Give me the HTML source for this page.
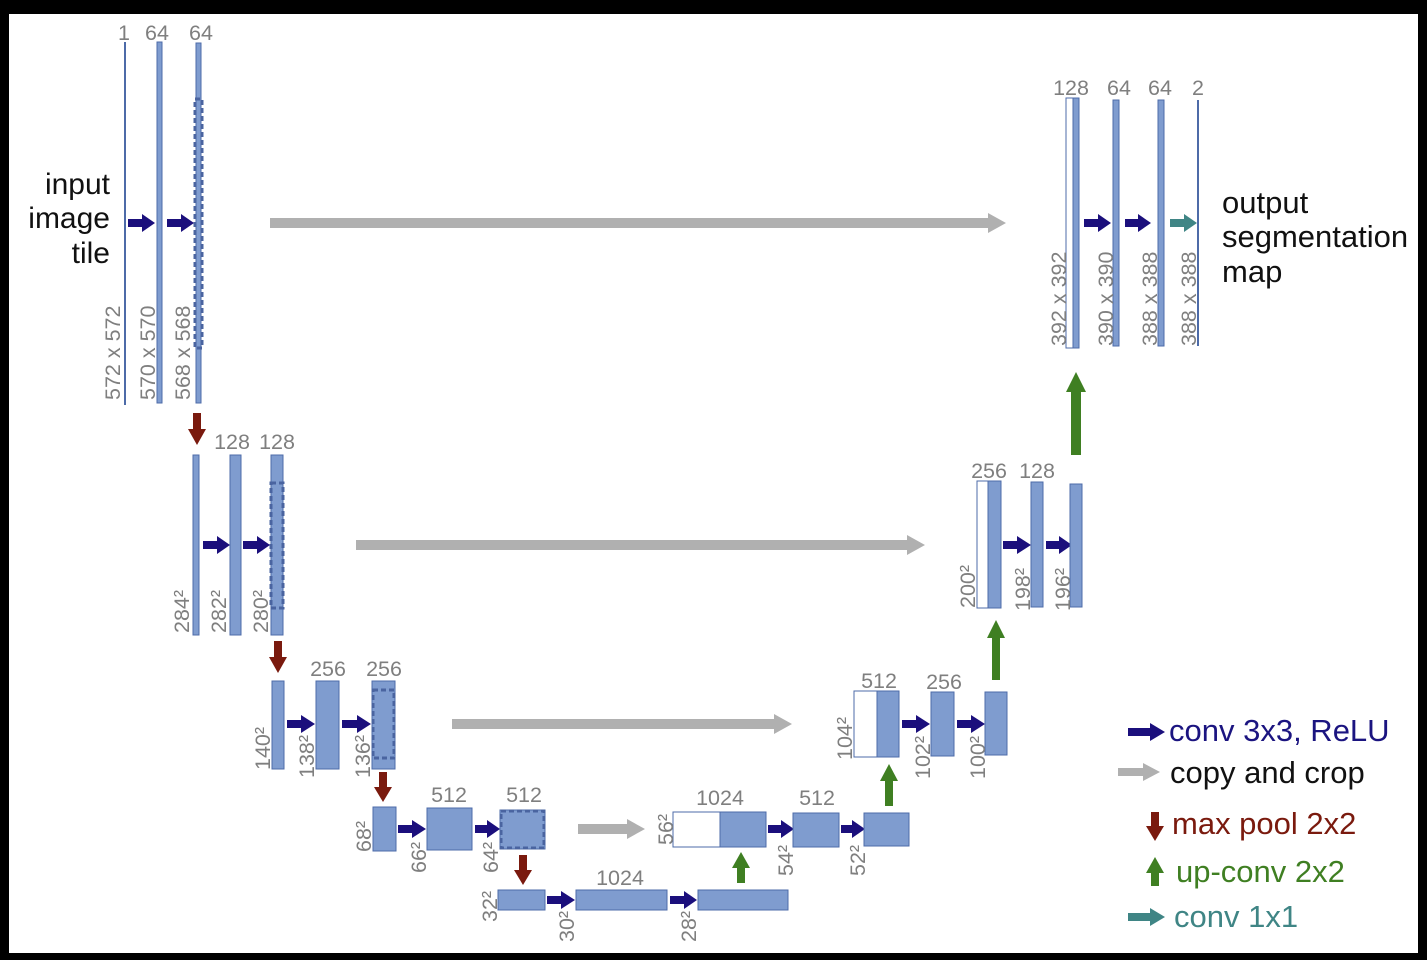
<!DOCTYPE html>
<html><head><meta charset="utf-8"><style>
html,body{margin:0;padding:0;background:#000;}
svg{display:block}
text{font-family:"Liberation Sans",sans-serif}
.g{fill:#7f7f7f;font-size:21.5px}
.b{fill:#7f9ccf;stroke:#4d6ba8;stroke-width:1}
.w{fill:#fff;stroke:#4d6ba8;stroke-width:1}
.d{fill:none;stroke:#4a64a0;stroke-width:3;stroke-dasharray:5,3}
.nv{fill:#1b0f7c}.gr{fill:#b0b0b0}.rd{fill:#7a1a0e}.gn{fill:#3f7f22}.tl{fill:#3f8585}
</style></head><body>
<svg width="1427" height="960" viewBox="0 0 1427 960" xmlns="http://www.w3.org/2000/svg">
<rect x="0" y="0" width="1427" height="960" fill="#000"/>
<rect x="9" y="14" width="1409" height="939" fill="#fff"/>

<!-- level 1 -->
<line x1="125" y1="42" x2="125" y2="405" stroke="#4d6ba8" stroke-width="2"/>
<rect class="b" x="157" y="42" width="5" height="361"/>
<rect class="b" x="196" y="43" width="5" height="360"/>
<rect class="d" x="195" y="99" width="7" height="249"/>
<text class="g" x="124" y="40" text-anchor="middle">1</text>
<text class="g" x="157" y="40" text-anchor="middle">64</text>
<text class="g" x="201" y="40" text-anchor="middle">64</text>
<text class="g" transform="translate(120,400) rotate(-90)">572 x 572</text>
<text class="g" transform="translate(155,400) rotate(-90)">570 x 570</text>
<text class="g" transform="translate(190,400) rotate(-90)">568 x 568</text>
<text x="110" y="194" font-size="30" text-anchor="end" fill="#111">input</text>
<text x="110" y="228" font-size="30" text-anchor="end" fill="#111">image</text>
<text x="110" y="263" font-size="30" text-anchor="end" fill="#111">tile</text>
<polygon class="nv" points="128,219 142,219 142,214 155,223 142,232 142,227 128,227"/>
<polygon class="nv" points="167,219 181,219 181,214 194,223 181,232 181,227 167,227"/>
<polygon class="gr" points="270,218 988,218 988,213 1006,223 988,233 988,228 270,228"/>

<!-- level 2 -->
<polygon class="rd" points="193,413 201,413 201,429 206,429 197,445 188,429 193,429"/>
<rect class="b" x="193" y="455" width="6" height="180"/>
<rect class="b" x="230" y="455" width="11" height="180"/>
<rect class="b" x="271" y="455" width="12" height="180"/>
<rect class="d" x="271" y="483" width="12" height="125"/>
<text class="g" x="232" y="449" text-anchor="middle">128</text>
<text class="g" x="277" y="449" text-anchor="middle">128</text>
<text class="g" transform="translate(189,633) rotate(-90)">284²</text>
<text class="g" transform="translate(226,633) rotate(-90)">282²</text>
<text class="g" transform="translate(268,633) rotate(-90)">280²</text>
<polygon class="nv" points="203,541 217,541 217,536 230,545 217,554 217,549 203,549"/>
<polygon class="nv" points="243,541 257,541 257,536 270,545 257,554 257,549 243,549"/>
<polygon class="gr" points="356,540 907,540 907,535 925,545 907,555 907,550 356,550"/>

<!-- level 3 -->
<polygon class="rd" points="274,641 282,641 282,657 287,657 278,673 269,657 274,657"/>
<rect class="b" x="272" y="681" width="12" height="88"/>
<rect class="b" x="316" y="681" width="23" height="88"/>
<rect class="b" x="372" y="681" width="23" height="88"/>
<rect class="d" x="373" y="690" width="21" height="68"/>
<text class="g" x="328" y="676" text-anchor="middle">256</text>
<text class="g" x="384" y="676" text-anchor="middle">256</text>
<text class="g" transform="translate(270,770) rotate(-90)">140²</text>
<text class="g" transform="translate(314,778) rotate(-90)">138²</text>
<text class="g" transform="translate(370,778) rotate(-90)">136²</text>
<polygon class="nv" points="287,720 301,720 301,715 315,724 301,733 301,728 287,728"/>
<polygon class="nv" points="342,720 357,720 357,715 371,724 357,733 357,728 342,728"/>
<polygon class="gr" points="452,719 774,719 774,714 792,724 774,734 774,729 452,729"/>

<!-- level 4 -->
<polygon class="rd" points="379,772 387,772 387,787 392,787 383,802 374,787 379,787"/>
<rect class="b" x="373" y="807" width="23" height="44"/>
<rect class="b" x="427" y="808" width="45" height="42"/>
<rect class="b" x="500" y="810" width="45" height="39"/>
<rect class="d" x="501" y="811" width="43" height="37"/>
<text class="g" x="449" y="802" text-anchor="middle">512</text>
<text class="g" x="524" y="802" text-anchor="middle">512</text>
<text class="g" transform="translate(371,852) rotate(-90)">68²</text>
<text class="g" transform="translate(426,873) rotate(-90)">66²</text>
<text class="g" transform="translate(498,873) rotate(-90)">64²</text>
<polygon class="nv" points="398,825 412,825 412,820 426,829 412,838 412,833 398,833"/>
<polygon class="nv" points="475,825 487,825 487,820 500,829 487,838 487,833 475,833"/>
<polygon class="gr" points="578,824 627,824 627,819 645,829 627,839 627,834 578,834"/>

<!-- level 5 -->
<polygon class="rd" points="519,855 527,855 527,870 532,870 523,885 514,870 519,870"/>
<rect class="b" x="498" y="890" width="47" height="20"/>
<rect class="b" x="576" y="890" width="91" height="20"/>
<rect class="b" x="698" y="890" width="90" height="20"/>
<text class="g" x="620" y="885" text-anchor="middle">1024</text>
<text class="g" transform="translate(497,922) rotate(-90)">32²</text>
<text class="g" transform="translate(574,942) rotate(-90)">30²</text>
<text class="g" transform="translate(696,942) rotate(-90)">28²</text>
<polygon class="nv" points="547,896 561,896 561,891 575,900 561,909 561,904 547,904"/>
<polygon class="nv" points="670,896 684,896 684,891 697,900 684,909 684,904 670,904"/>
<polygon class="gn" points="737,883 745,883 745,868 750,868 741,852 732,868 737,868"/>

<!-- up level 4 -->
<rect class="w" x="673" y="812" width="47" height="35"/>
<rect class="b" x="720" y="812" width="46" height="35"/>
<text class="g" x="720" y="805" text-anchor="middle">1024</text>
<text class="g" transform="translate(673,845) rotate(-90)">56²</text>
<polygon class="nv" points="768,825 781,825 781,820 794,829 781,838 781,833 768,833"/>
<rect class="b" x="793" y="813" width="46" height="34"/>
<text class="g" x="817" y="805" text-anchor="middle">512</text>
<text class="g" transform="translate(793,876) rotate(-90)">54²</text>
<polygon class="nv" points="841,825 852,825 852,820 865,829 852,838 852,833 841,833"/>
<rect class="b" x="864" y="813" width="45" height="33"/>
<text class="g" transform="translate(865,876) rotate(-90)">52²</text>
<polygon class="gn" points="885,806 893,806 893,781 898,781 889,764 880,781 885,781"/>

<!-- up level 3 -->
<rect class="w" x="854" y="691" width="23" height="66"/>
<rect class="b" x="877" y="691" width="22" height="66"/>
<text class="g" x="879" y="688" text-anchor="middle">512</text>
<text class="g" transform="translate(852,760) rotate(-90)">104²</text>
<polygon class="nv" points="902,720 916,720 916,715 930,724 916,733 916,728 902,728"/>
<rect class="b" x="931" y="692" width="23" height="64"/>
<text class="g" x="944" y="689" text-anchor="middle">256</text>
<text class="g" transform="translate(930,779) rotate(-90)">102²</text>
<polygon class="nv" points="957,720 971,720 971,715 985,724 971,733 971,728 957,728"/>
<rect class="b" x="985" y="692" width="22" height="63"/>
<text class="g" transform="translate(985,779) rotate(-90)">100²</text>
<polygon class="gn" points="992,680 1000,680 1000,638 1005,638 996,620 987,638 992,638"/>

<!-- up level 2 -->
<rect class="w" x="977" y="481" width="11" height="127"/>
<rect class="b" x="988" y="481" width="13" height="127"/>
<text class="g" x="989" y="478" text-anchor="middle">256</text>
<text class="g" transform="translate(975,608) rotate(-90)">200²</text>
<polygon class="nv" points="1003,541 1017,541 1017,536 1031,545 1017,554 1017,549 1003,549"/>
<rect class="b" x="1031" y="482" width="12" height="125"/>
<text class="g" x="1037" y="478" text-anchor="middle">128</text>
<text class="g" transform="translate(1030,611) rotate(-90)">198²</text>
<polygon class="nv" points="1046,541 1059,541 1059,536 1072,545 1059,554 1059,549 1046,549"/>
<rect class="b" x="1070" y="484" width="12" height="123"/>
<text class="g" transform="translate(1070,611) rotate(-90)">196²</text>
<polygon class="gn" points="1071,455 1081,455 1081,392 1086,392 1076,372 1066,392 1071,392"/>

<!-- up level 1 -->
<rect class="w" x="1066" y="98" width="7" height="250"/>
<rect class="b" x="1073" y="98" width="6" height="250"/>
<text class="g" x="1071" y="95" text-anchor="middle">128</text>
<text class="g" transform="translate(1066,346) rotate(-90)">392 x 392</text>
<polygon class="nv" points="1084,219 1098,219 1098,214 1111,223 1098,232 1098,227 1084,227"/>
<rect class="b" x="1113" y="100" width="6" height="246"/>
<text class="g" x="1119" y="95" text-anchor="middle">64</text>
<text class="g" transform="translate(1113,346) rotate(-90)">390 x 390</text>
<polygon class="nv" points="1125,219 1138,219 1138,214 1151,223 1138,232 1138,227 1125,227"/>
<rect class="b" x="1158" y="100" width="6" height="246"/>
<text class="g" x="1160" y="95" text-anchor="middle">64</text>
<text class="g" transform="translate(1157,346) rotate(-90)">388 x 388</text>
<polygon class="tl" points="1170,219 1184,219 1184,214 1197,223 1184,232 1184,227 1170,227"/>
<line x1="1198" y1="100" x2="1198" y2="346" stroke="#4d6ba8" stroke-width="2"/>
<text class="g" x="1198" y="95" text-anchor="middle">2</text>
<text class="g" transform="translate(1196,346) rotate(-90)">388 x 388</text>
<text x="1222" y="213" font-size="31" fill="#111">output</text>
<text x="1222" y="247" font-size="31" fill="#111">segmentation</text>
<text x="1222" y="282" font-size="31" fill="#111">map</text>

<!-- legend -->
<polygon class="nv" points="1128,728 1150,728 1150,723 1165,732 1150,741 1150,736 1128,736"/>
<text x="1169" y="741" font-size="31" fill="#1b1480">conv 3x3, ReLU</text>
<polygon class="gr" points="1118,768 1143,768 1143,763 1160,772 1143,781 1143,776 1118,776"/>
<text x="1170" y="783" font-size="31" fill="#111">copy and crop</text>
<polygon class="rd" points="1151,812 1159,812 1159,826 1164,826 1155,841 1146,826 1151,826"/>
<text x="1172" y="834" font-size="31" fill="#7a1a0e">max pool 2x2</text>
<polygon class="gn" points="1151,886 1159,886 1159,873 1164,873 1155,857 1146,873 1151,873"/>
<text x="1176" y="882" font-size="31" fill="#3f7f22">up-conv 2x2</text>
<polygon class="tl" points="1128,913 1150,913 1150,908 1165,917 1150,926 1150,921 1128,921"/>
<text x="1174" y="927" font-size="31" fill="#3f8585">conv 1x1</text>
</svg>
</body></html>
